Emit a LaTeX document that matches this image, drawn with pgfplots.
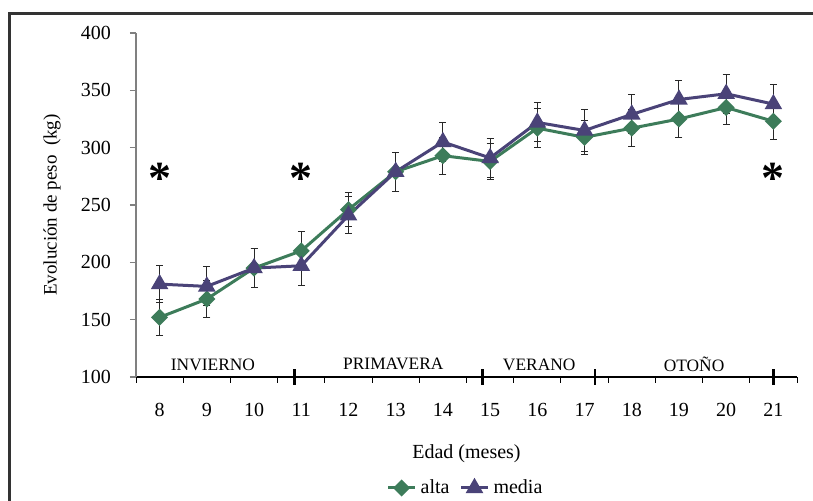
\documentclass[border=0pt]{standalone}
\usepackage{pgfplots}
\pgfplotsset{compat=1.18}
\usepackage{pgfplotstable}
\usepackage{fontspec}
\setmainfont{Liberation Serif}
\definecolor{altaC}{RGB}{61,124,90}
\definecolor{mediaC}{RGB}{74,67,120}
\definecolor{errC}{RGB}{40,40,40}
\pgfplotstableread{
x y e
8 152 16
9 168 16
10 195 17
11 210 17
12 246 15
13 279 17
14 293 16
15 288 16
16 317 17
17 309 15
18 317 16
19 325 16
20 335 15
21 323 16
}\altatab
\pgfplotstableread{
x y e
8 181 16
9 179 17
10 195 17
11 197 17
12 241 16
13 279 17
14 305 17
15 291 17
16 322 17
17 315 18
18 329 17
19 342 17
20 347 17
21 338 17
}\mediatab
\pgfplotstableread{
x y
8 273.5
11 273.5
21 273.5
}\asttab
\begin{document}
\begin{tikzpicture}
\useasboundingbox (0,0) rectangle (406.5pt,250.5pt);
\draw[line width=1.5pt, black!80] (4.5pt,-5pt) |- (415pt,243.5pt);
\begin{axis}[
  at={(68pt,62pt)}, anchor=south west,
  scale only axis, width=330.5pt, height=172pt,
  xmin=7.5, xmax=21.5, ymin=100, ymax=400,
  clip=false,
  axis x line*=bottom, axis y line*=left,
  x axis line style={black, line width=0.6pt, -},
  y axis line style={black!50, line width=1pt, -},
  font=\fontsize{10}{12}\selectfont,
  /pgf/number format/assume math mode=true,
  tick align=outside,
  major tick length=3pt, minor tick length=3pt,
  xtick={8,...,21},
  minor xtick={7.5,8.5,...,21.5},
  major x tick style={draw=none},
  minor x tick style={black, line width=0.5pt},
  major y tick style={black!50, line width=0.8pt},
  ytick={100,150,...,400},
  extra x ticks={10.86,14.84,17.22,21},
  extra x tick labels={},
  extra x tick style={major tick length=8pt, tick align=center, major x tick style={draw=black, line width=1.2pt}},
  xticklabel style={anchor=center, yshift=-13.5pt},
  yticklabel style={anchor=east, xshift=-6pt},
  xlabel={Edad (meses)},
  xlabel style={at={(axis description cs:0.5,0)}, anchor=center, yshift=-38.5pt},
  ylabel={Evolución de peso\ \ (kg)},
  ylabel style={at={(axis description cs:-0.1271,0.5)}, anchor=center, font=\fontsize{9.5}{11}\selectfont},
  legend columns=2,
  legend style={at={(axis description cs:0.5,0)}, anchor=center, yshift=-55.5pt, draw=none, fill=none,
    font=\fontsize{10}{12}\selectfont, /tikz/every even column/.append style={column sep=3pt}},
  legend image code/.code={\draw[mark repeat=2,mark phase=2,#1] plot coordinates {(0pt,0pt)(6.75pt,0pt)(13.5pt,0pt)};},
]
\addplot[color=altaC, line width=1.5pt, mark=diamond*, mark size=3.2pt,
  mark options={solid, fill=altaC, xscale=1.33},
  error bars/.cd, y dir=both, y explicit,
  error bar style={errC, line width=0.5pt},
  error mark options={rotate=90, mark size=1.75pt, errC, line width=0.5pt}]
  table[x=x, y=y, y error=e] {\altatab};
\addlegendentry{alta}
\addplot[color=mediaC, line width=1.5pt, mark=triangle*, mark size=3.6pt,
  mark options={solid, fill=mediaC},
  error bars/.cd, y dir=both, y explicit,
  error bar style={errC, line width=0.5pt},
  error mark options={rotate=90, mark size=1.75pt, errC, line width=0.5pt}]
  table[x=x, y=y, y error=e] {\mediatab};
\addlegendentry{media}
\addplot[draw=none, mark=none, forget plot,
  nodes near coords={\fontsize{23}{23}\selectfont\bfseries *},
  every node near coord/.style={anchor=center, inner sep=0pt, text=black}]
  table[x=x, y=y] {\asttab};
\node[font=\fontsize{8.7}{10}\selectfont, anchor=center] at (axis cs:9.13,111) {INVIERNO};
\node[font=\fontsize{8.7}{10}\selectfont, anchor=center] at (axis cs:12.95,111) {PRIMAVERA};
\node[font=\fontsize{8.7}{10}\selectfont, anchor=center] at (axis cs:16.04,111) {VERANO};
\node[font=\fontsize{8.7}{10}\selectfont, anchor=center] at (axis cs:19.32,111) {OTOÑO};
\end{axis}
\end{tikzpicture}
\end{document}
